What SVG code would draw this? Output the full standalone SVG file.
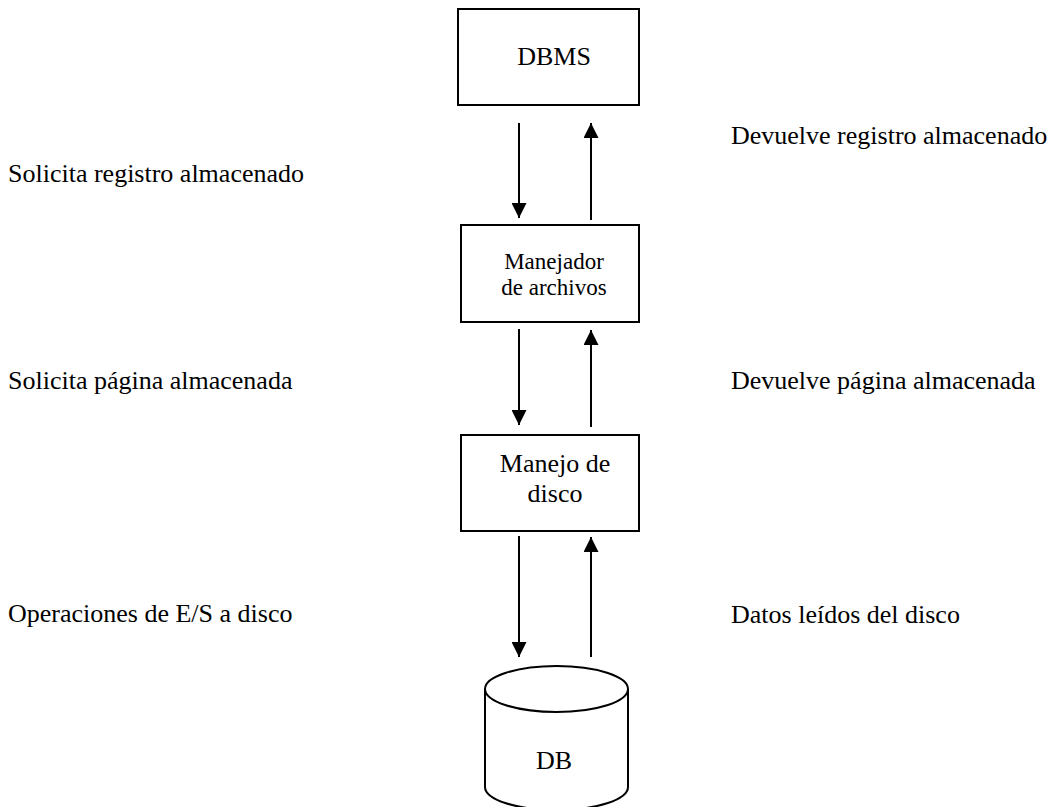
<svg xmlns="http://www.w3.org/2000/svg" width="1056" height="807" viewBox="0 0 1056 807">
<style>
.box{fill:#fff;stroke:#000;stroke-width:2}
.t{font-family:"Liberation Serif","Times New Roman",serif;font-size:26px;fill:#000}
.s{font-size:23px}
.c{text-anchor:middle}
.ln{stroke:#000;stroke-width:2;fill:none}
</style>
<defs>
<marker id="ah" viewBox="0 0 15 15" refX="15" refY="7.5" markerWidth="15" markerHeight="15" markerUnits="userSpaceOnUse" orient="auto">
<path d="M0,0 L15,7.5 L0,15 z" fill="#000"/>
</marker>
</defs>
<rect width="1056" height="807" fill="#fff"/>
<g id="dbms">
<rect class="box" x="458" y="9" width="181" height="96"/>
<text class="t c" x="554" y="65">DBMS</text>
</g>
<g id="manejador">
<rect class="box" x="461" y="225" width="178" height="97"/>
<text class="t s c" x="554" y="269">Manejador</text>
<text class="t s c" x="554" y="295">de archivos</text>
</g>
<g id="disco">
<rect class="box" x="461" y="435" width="178" height="96"/>
<text class="t c" x="555" y="472">Manejo de</text>
<text class="t c" x="555" y="502">disco</text>
</g>
<g id="db">
<path class="box" d="M485,689 L485,787 A71.5,23 0 0 0 628,787 L628,689"/>
<ellipse class="box" cx="556.5" cy="689" rx="71.5" ry="23"/>
<text class="t c" x="554" y="769">DB</text>
</g>
<g id="connectors">
<line class="ln" x1="519" y1="123" x2="519" y2="218" marker-end="url(#ah)"/>
<line class="ln" x1="591" y1="220" x2="591" y2="123" marker-end="url(#ah)"/>
<line class="ln" x1="519" y1="329" x2="519" y2="425" marker-end="url(#ah)"/>
<line class="ln" x1="591" y1="427" x2="591" y2="330" marker-end="url(#ah)"/>
<line class="ln" x1="519" y1="536" x2="519" y2="657" marker-end="url(#ah)"/>
<line class="ln" x1="591" y1="657" x2="591" y2="537" marker-end="url(#ah)"/>
</g>
<g id="labels">
<text class="t" x="8" y="182">Solicita registro almacenado</text>
<text class="t" x="731" y="144">Devuelve registro almacenado</text>
<text class="t" x="8" y="389">Solicita página almacenada</text>
<text class="t" x="731" y="389">Devuelve página almacenada</text>
<text class="t" x="8" y="622">Operaciones de E/S a disco</text>
<text class="t" x="731" y="623">Datos leídos del disco</text>
</g>
</svg>
